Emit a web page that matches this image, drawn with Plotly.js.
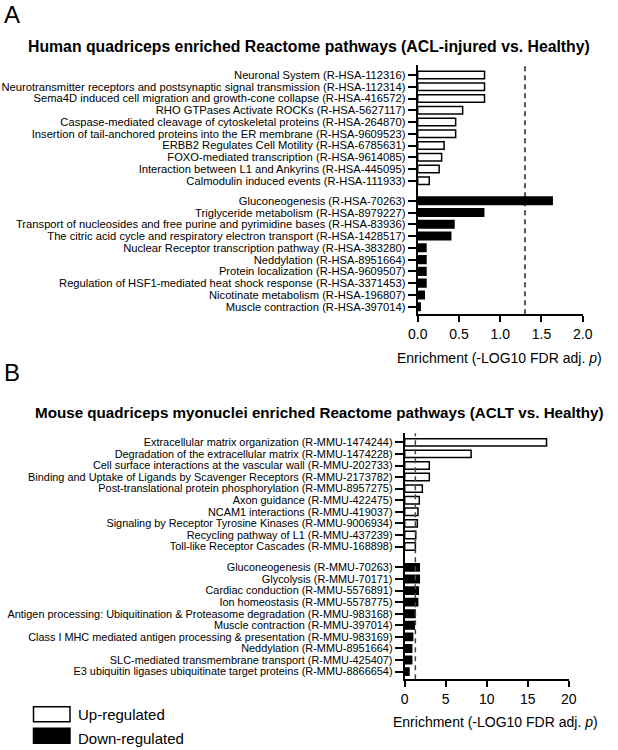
<!DOCTYPE html>
<html>
<head>
<meta charset="utf-8">
<script src="https://cdn.plot.ly/plotly-3.0.1.min.js"></script>
<style>html,body{margin:0;padding:0;background:#fff;}#chart{width:618px;height:750px;}</style>
</head>
<body>
<div id="chart"></div>
<script>
// ---- Panel A data (Human, ACL-injured vs. Healthy) ----
const humanUpLabels = [
  "Neuronal System (R-HSA-112316)",
  "Neurotransmitter receptors and postsynaptic signal transmission (R-HSA-112314)",
  "Sema4D induced cell migration and growth-cone collapse (R-HSA-416572)",
  "RHO GTPases Activate ROCKs (R-HSA-5627117)",
  "Caspase-mediated cleavage of cytoskeletal proteins (R-HSA-264870)",
  "Insertion of tail-anchored proteins into the ER membrane (R-HSA-9609523)",
  "ERBB2 Regulates Cell Motility (R-HSA-6785631)",
  "FOXO-mediated transcription (R-HSA-9614085)",
  "Interaction between L1 and Ankyrins (R-HSA-445095)",
  "Calmodulin induced events (R-HSA-111933)"
];
const humanUpValues = [0.81, 0.81, 0.81, 0.545, 0.46, 0.46, 0.32, 0.29, 0.26, 0.14];
const humanDownLabels = [
  "Gluconeogenesis (R-HSA-70263)",
  "Triglyceride metabolism (R-HSA-8979227)",
  "Transport of nucleosides and free purine and pyrimidine bases (R-HSA-83936)",
  "The citric acid cycle and respiratory electron transport (R-HSA-1428517)",
  "Nuclear Receptor transcription pathway (R-HSA-383280)",
  "Neddylation (R-HSA-8951664)",
  "Protein localization (R-HSA-9609507)",
  "Regulation of HSF1-mediated heat shock response (R-HSA-3371453)",
  "Nicotinate metabolism (R-HSA-196807)",
  "Muscle contraction (R-HSA-397014)"
];
const humanDownValues = [1.63, 0.80, 0.44, 0.40, 0.10, 0.10, 0.10, 0.10, 0.08, 0.03];

// ---- Panel B data (Mouse myonuclei, ACLT vs. Healthy) ----
const mouseUpLabels = [
  "Extracellular matrix organization (R-MMU-1474244)",
  "Degradation of the extracellular matrix (R-MMU-1474228)",
  "Cell surface interactions at the vascular wall (R-MMU-202733)",
  "Binding and Uptake of Ligands by Scavenger Receptors (R-MMU-2173782)",
  "Post-translational protein phosphorylation (R-MMU-8957275)",
  "Axon guidance (R-MMU-422475)",
  "NCAM1 interactions (R-MMU-419037)",
  "Signaling by Receptor Tyrosine Kinases (R-MMU-9006934)",
  "Recycling pathway of L1 (R-MMU-437239)",
  "Toll-like Receptor Cascades (R-MMU-168898)"
];
const mouseUpValues = [17.3, 8.1, 3.0, 3.0, 2.15, 1.78, 1.62, 1.54, 1.35, 1.3];
const mouseDownLabels = [
  "Gluconeogenesis (R-MMU-70263)",
  "Glycolysis (R-MMU-70171)",
  "Cardiac conduction (R-MMU-5576891)",
  "Ion homeostasis (R-MMU-5578775)",
  "Antigen processing: Ubiquitination & Proteasome degradation (R-MMU-983168)",
  "Muscle contraction (R-MMU-397014)",
  "Class I MHC mediated antigen processing & presentation (R-MMU-983169)",
  "Neddylation (R-MMU-8951664)",
  "SLC-mediated transmembrane transport (R-MMU-425407)",
  "E3 ubiquitin ligases ubiquitinate target proteins (R-MMU-8866654)"
];
const mouseDownValues = [1.78, 1.78, 1.66, 1.58, 1.26, 1.17, 0.97, 0.85, 0.85, 0.52];

const thresholdA = 1.3;   // -log10(0.05)
const thresholdB = 1.3;
const xTicksA = [0, 0.5, 1, 1.5, 2];
const xTicksB = [0, 5, 10, 15, 20];

// ---- layout helpers ----
const FONT = "Arial, 'Liberation Sans', Helvetica, sans-serif";
const gapA = 10.7, gapB = 10.8;
const posUpA = humanUpLabels.map((_, i) => i);
const posDownA = humanDownLabels.map((_, i) => gapA + i);
const posUpB = mouseUpLabels.map((_, i) => i);
const posDownB = mouseDownLabels.map((_, i) => gapB + i);

function bar(x, y, xa, ya, up, name) {
  return {
    type: 'bar', orientation: 'h', x: x, y: y, xaxis: xa, yaxis: ya,
    width: 0.64, name: name, showlegend: false, hoverinfo: 'x+y',
    marker: {color: up ? '#ffffff' : '#000000', line: {color: '#000000', width: 1.5}}
  };
}

const data = [
  bar(humanUpValues, posUpA, 'x', 'y', true, 'Up-regulated'),
  bar(humanDownValues, posDownA, 'x', 'y', false, 'Down-regulated'),
  bar(mouseUpValues, posUpB, 'x2', 'y2', true, 'Up-regulated'),
  bar(mouseDownValues, posDownB, 'x2', 'y2', false, 'Down-regulated')
];

const W = 618, H = 750;
const px = v => v / W, py = v => 1 - v / H;

const axBase = {
  showline: true, linewidth: 2, linecolor: '#000', ticks: 'outside', tickwidth: 2,
  tickcolor: '#000', showgrid: false, zeroline: false, fixedrange: true
};

const layout = {
  width: W, height: H, autosize: false,
  margin: {l: 0, r: 0, t: 0, b: 0, pad: 0},
  paper_bgcolor: '#fff', plot_bgcolor: 'rgba(0,0,0,0)',
  font: {family: FONT, color: '#000'},
  showlegend: false, bargap: 0,
  xaxis: Object.assign({}, axBase, {
    domain: [px(417.7), px(582.7)], range: [0, 2], anchor: 'y',
    tickvals: xTicksA, ticktext: xTicksA.map(v => v.toFixed(1)), ticklen: 6,
    tickfont: {size: 14, family: FONT}
  }),
  yaxis: Object.assign({}, axBase, {
    domain: [py(314.3), py(65)], range: [20.35, -0.85], anchor: 'x',
    tickvals: posUpA.concat(posDownA), ticktext: humanUpLabels.concat(humanDownLabels),
    ticklen: 8, tickfont: {size: 11.2, family: FONT}
  }),
  xaxis2: Object.assign({}, axBase, {
    domain: [px(404.7), px(568.7)], range: [0, 20], anchor: 'y2',
    tickvals: xTicksB, ticktext: xTicksB.map(String), ticklen: 6,
    tickfont: {size: 14, family: FONT}
  }),
  yaxis2: Object.assign({}, axBase, {
    domain: [py(679.3), py(433.3)], range: [20.46, -0.78], anchor: 'x2',
    tickvals: posUpB.concat(posDownB), ticktext: mouseUpLabels.concat(mouseDownLabels),
    ticklen: 8, tickfont: {size: 10.9, family: FONT}
  }),
  shapes: [
    {type: 'line', xref: 'x', yref: 'y domain', x0: thresholdA, x1: thresholdA, y0: 0, y1: 1,
     line: {color: '#555', width: 2, dash: '5px,4px'}, layer: 'below'},
    {type: 'line', xref: 'x2', yref: 'y2 domain', x0: thresholdB, x1: thresholdB, y0: 0, y1: 1,
     line: {color: '#444', width: 1.5, dash: '5px,4px'}, layer: 'above'},
    // legend swatches
    {type: 'rect', xref: 'paper', yref: 'paper', x0: px(33.5), x1: px(70), y0: py(721.7), y1: py(706.7),
     fillcolor: '#fff', line: {color: '#000', width: 1.5}},
    {type: 'rect', xref: 'paper', yref: 'paper', x0: px(33.5), x1: px(70), y0: py(743.3), y1: py(728.3),
     fillcolor: '#000', line: {color: '#000', width: 1.5}}
  ],
  annotations: [
    {text: 'A', xref: 'paper', yref: 'paper', x: px(2), y: py(14), xanchor: 'left', yanchor: 'middle',
     showarrow: false, font: {size: 24, family: FONT}},
    {text: 'B', xref: 'paper', yref: 'paper', x: px(2), y: py(372), xanchor: 'left', yanchor: 'middle',
     showarrow: false, font: {size: 24, family: FONT}},
    {text: '<b>Human quadriceps enriched Reactome pathways (ACL-injured vs. Healthy)</b>',
     xref: 'paper', yref: 'paper', x: px(308.5), y: py(46), xanchor: 'center', yanchor: 'middle',
     showarrow: false, font: {size: 15.8, family: FONT}},
    {text: '<b>Mouse quadriceps myonuclei enriched Reactome pathways (ACLT vs. Healthy)</b>',
     xref: 'paper', yref: 'paper', x: px(319), y: py(412), xanchor: 'center', yanchor: 'middle',
     showarrow: false, font: {size: 15.2, family: FONT}},
    {text: 'Enrichment (-LOG10 FDR adj. <i>p</i>)', xref: 'paper', yref: 'paper', x: px(499), y: py(358),
     xanchor: 'center', yanchor: 'middle', showarrow: false, font: {size: 14, family: FONT}},
    {text: 'Enrichment (-LOG10 FDR adj. <i>p</i>)', xref: 'paper', yref: 'paper', x: px(495), y: py(722),
     xanchor: 'center', yanchor: 'middle', showarrow: false, font: {size: 14, family: FONT}},
    {text: 'Up-regulated', xref: 'paper', yref: 'paper', x: px(76), y: py(714), xanchor: 'left', yanchor: 'middle',
     showarrow: false, font: {size: 15, family: FONT}},
    {text: 'Down-regulated', xref: 'paper', yref: 'paper', x: px(76), y: py(738), xanchor: 'left', yanchor: 'middle',
     showarrow: false, font: {size: 15, family: FONT}}
  ]
};

Plotly.newPlot('chart', data, layout, {staticPlot: true, displayModeBar: false});
</script>
</body>
</html>
